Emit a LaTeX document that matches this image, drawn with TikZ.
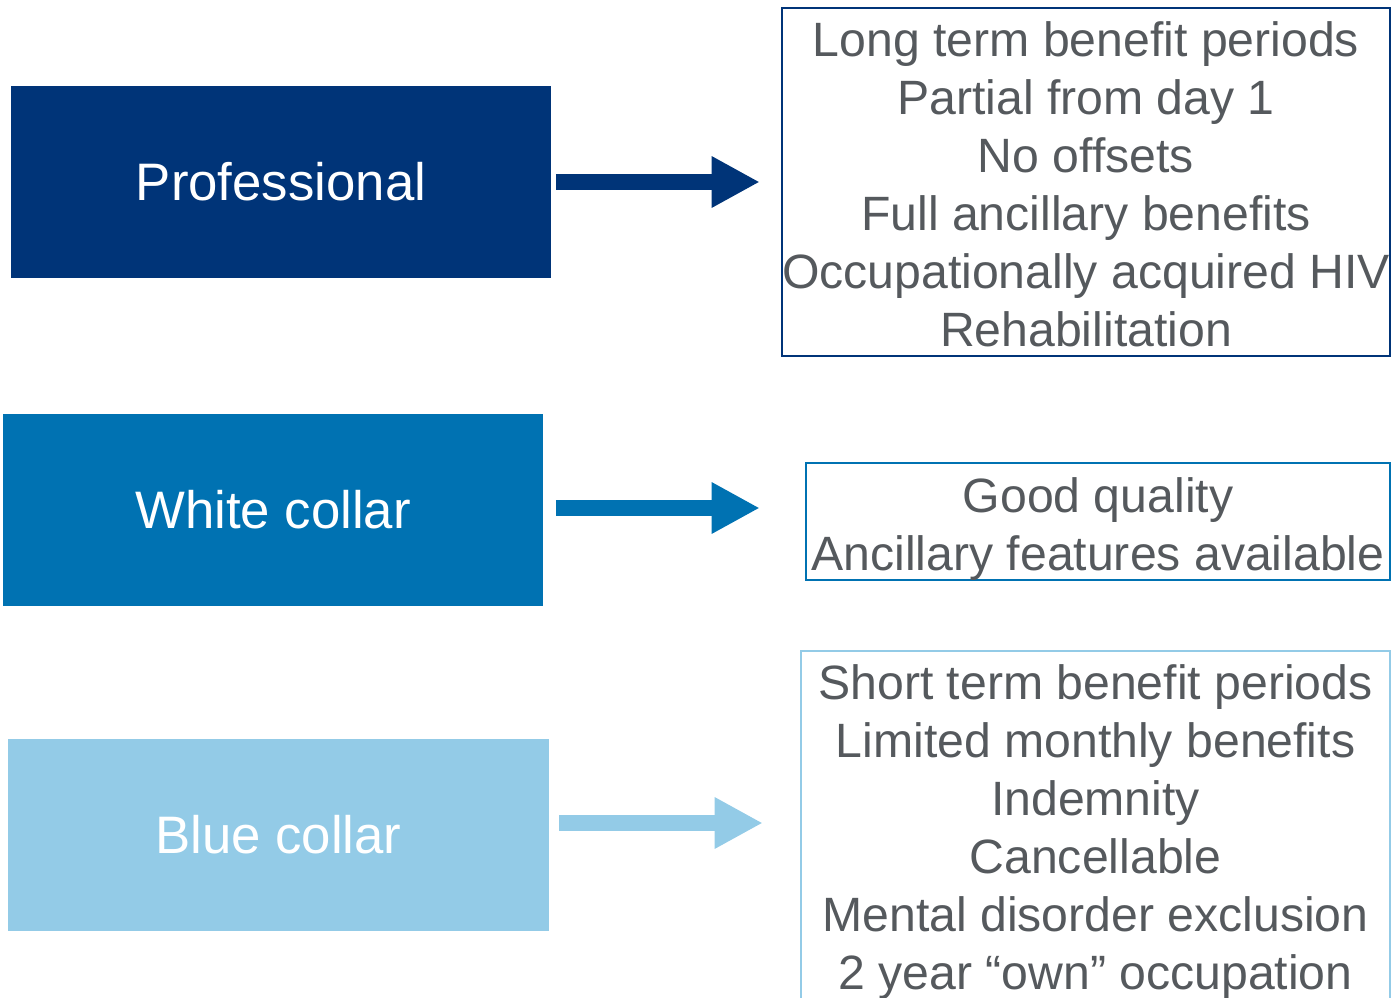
\documentclass[tikz,border=0pt]{standalone}
\usepackage{fontspec}
\setmainfont{Liberation Sans}
\usetikzlibrary{arrows.meta}

\definecolor{profblue}{HTML}{003478}
\definecolor{whiteblue}{HTML}{0072B2}
\definecolor{lightblue}{HTML}{93CBE7}
\definecolor{textgray}{HTML}{55595D}

\begin{document}
\begin{tikzpicture}[x=0.01cm, y=-0.01cm,
  group/.style={minimum width=5.40cm, minimum height=1.92cm, inner sep=0pt, text=white, font=\fontsize{15}{18}\selectfont},
  list/.style={draw, line width=0.6pt, inner sep=0pt},
  listtext/.style={inner sep=0pt, align=center, text=textgray, font=\fontsize{13.7}{16.5}\selectfont},
  link/.style={line width=0.16cm, -{Triangle[length=0.48cm, width=0.48cm]}}]
  \clip (0,0) rectangle (1391,997);
  % professional
  \node[group, fill=profblue] (prof) at (281,182) {Professional};
  \node[list, draw=profblue, minimum width=6.08cm, minimum height=3.48cm] (profinfo) at (1086,182) {};
  \node[listtext] (proftext) at ([yshift=-0.02cm]profinfo.center)
    {Long term benefit periods\\Partial from day 1\\No offsets\\Full ancillary benefits\\Occupationally acquired HIV\\Rehabilitation};
  \draw[link, profblue, shorten <=0.04cm, shorten >=0.21cm] (prof.east) -- (prof.east -| profinfo.west);
  % white collar
  \node[group, fill=whiteblue] (white) at (273,510) {White collar};
  \node[list, draw=whiteblue, minimum width=5.84cm, minimum height=1.17cm] (whiteinfo) at (1098,521.5) {};
  \node[listtext] (whitetext) at ([yshift=-0.075cm]whiteinfo.center)
    {Good quality\\Ancillary features available};
  \draw[link, whiteblue, shorten <=0.12cm, shorten >=0.45cm] ([yshift=0.02cm]white.east) -- ([yshift=0.02cm]white.east -| whiteinfo.west);
  % blue collar
  \node[group, fill=lightblue] (blue) at (278.5,835) {Blue collar};
  \node[list, draw=lightblue, minimum width=5.89cm, minimum height=3.52cm] (blueinfo) at (1095.5,827) {};
  \node[listtext] (bluetext) at ([yshift=-0.05cm]blueinfo.center)
    {Short term benefit periods\\Limited monthly benefits\\Indemnity\\Cancellable\\Mental disorder exclusion\\2 year “own” occupation};
  \draw[link, lightblue, shorten <=0.10cm, shorten >=0.37cm] ([yshift=0.12cm]blue.east) -- ([yshift=0.12cm]blue.east -| blueinfo.west);
\end{tikzpicture}
\end{document}
